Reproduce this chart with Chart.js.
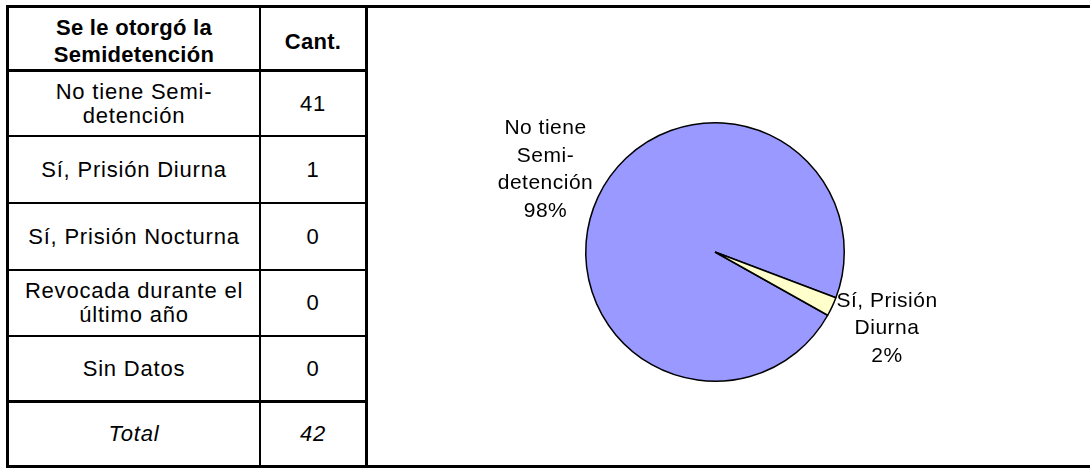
<!DOCTYPE html>
<html>
<head>
<meta charset="utf-8">
<script src="https://cdn.jsdelivr.net/npm/chart.js@4/dist/chart.umd.min.js"></script>
<style>
  body { margin: 0; background: #fff; font-family: "Liberation Sans", Arial, sans-serif; }
  #frame { position: absolute; left: 6px; top: 5px; width: 1200px; height: 463px; box-sizing: border-box; border: 3px solid #000; }
  #tabla { position: absolute; left: 6px; top: 5px; border-collapse: separate; border-spacing: 0; table-layout: fixed; }
  #tabla td { box-sizing: border-box; text-align: center; vertical-align: middle; padding: 0 10px;
              font-size: 22px; letter-spacing: 0.8px; line-height: 24px; color: #000;
              border-right: 2px solid #000; border-bottom: 2px solid #000; }
  #tabla td:first-child { border-left: 3px solid #000; width: 255px; }
  #tabla td:last-child { border-right: 3px solid #000; width: 107px; }
  #tabla tr.head td { border-top: 3px solid #000; border-bottom: 3px solid #000; font-weight: bold;
                      line-height: 27px; letter-spacing: 0.3px; padding-top: 5px; }
  #tabla tr.last td { border-bottom: 3px solid #000; }
  #tabla tr.total td { border-bottom: 3px solid #000; font-style: italic; }
  #grafico { position: absolute; left: 368px; top: 8px; width: 722px; height: 457px; }
</style>
</head>
<body>
<div id="frame"></div>
<table id="tabla"></table>
<div id="grafico"><canvas id="pie"></canvas></div>
<script>
const headers = ['Se le otorgó la Semidetención', 'Cant.'];
const categories = ['No tiene Semi-detención', 'Sí, Prisión Diurna', 'Sí, Prisión Nocturna', 'Revocada durante el último año', 'Sin Datos'];
const counts = [41, 1, 0, 0, 0];
const totalLabel = 'Total';
const sliceColors = ['#9999FF', '#FFFFCC', '#CCFFFF', '#660066', '#FF8080'];

// row heights of the table (header, categories, total)
const rowHeights = [67, 65, 67, 67, 66, 66, 65];

// tabla
const tabla = document.getElementById('tabla');
function addRow(cells, cls, h) {
  const tr = document.createElement('tr');
  if (cls) tr.className = cls;
  cells.forEach(c => {
    const td = document.createElement('td');
    td.textContent = c;
    td.style.height = h + 'px';
    tr.appendChild(td);
  });
  tabla.appendChild(tr);
}
addRow(headers, 'head', rowHeights[0]);
categories.forEach((c, i) => addRow([c, counts[i]], i === categories.length - 1 ? 'last' : '', rowHeights[i + 1]));
addRow([totalLabel, counts.reduce((a, b) => a + b, 0)], 'total', rowHeights[6]);

function wrapText(ctx, text, maxW) {
  const pieces = [];
  text.split(' ').forEach((word, wi) => {
    word.split(/(?<=-)/).forEach((part, pi) => pieces.push((wi > 0 && pi === 0 ? ' ' : '') + part));
  });
  const lines = [];
  let line = '';
  pieces.forEach(p => {
    const test = line + p;
    if (line && ctx.measureText(test).width > maxW) { lines.push(line); line = p.trim(); }
    else line = test;
  });
  if (line) lines.push(line);
  return lines;
}

// etiquetas fuera del pie: nombre + porcentaje
const pieLabels = {
  id: 'pieLabels',
  afterDatasetsDraw(chart) {
    const ctx = chart.ctx;
    const meta = chart.getDatasetMeta(0);
    const data = chart.data.datasets[0].data;
    const total = data.reduce((a, b) => a + b, 0);
    ctx.save();
    ctx.font = '21px "Liberation Sans", Arial, sans-serif';
    ctx.letterSpacing = '0.5px';
    ctx.fillStyle = '#000';
    ctx.textAlign = 'center';
    ctx.textBaseline = 'middle';
    const lh = 27.5;
    meta.data.forEach((arc, i) => {
      if (!data[i]) return;
      const p = arc.getProps(['x', 'y', 'startAngle', 'endAngle', 'outerRadius'], true);
      const mid = (p.startAngle + p.endAngle) / 2;
      const lines = wrapText(ctx, chart.data.labels[i], 102);
      lines.push(Math.round(data[i] / total * 100) + '%');
      const w = Math.max(...lines.map(l => ctx.measureText(l).width));
      const h = lines.length * lh;
      const r = p.outerRadius + 10;
      const cx = p.x + Math.cos(mid) * (r + w / 2);
      const cy = p.y + Math.sin(mid) * (r + h / 2);
      lines.forEach((l, k) => ctx.fillText(l, cx, cy - h / 2 + lh * (k + 0.5)));
    });
    ctx.restore();
  }
};

new Chart(document.getElementById('pie'), {
  type: 'pie',
  data: {
    labels: categories,
    datasets: [{
      data: counts,
      backgroundColor: sliceColors,
      borderColor: '#000',
      borderWidth: 1.5,
      hoverOffset: 0
    }]
  },
  options: {
    responsive: true,
    maintainAspectRatio: false,
    animation: false,
    events: [],
    rotation: 119.3,
    layout: { padding: { left: 217, right: 245, top: 114, bottom: 83 } },
    plugins: {
      legend: { display: false },
      tooltip: { enabled: false }
    }
  },
  plugins: [pieLabels]
});
</script>
</body>
</html>
